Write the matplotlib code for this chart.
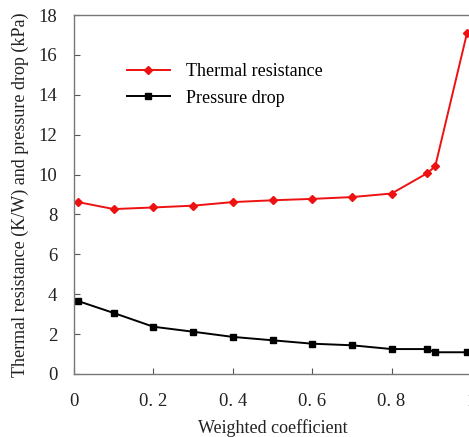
import matplotlib
matplotlib.use("Agg")
import matplotlib.pyplot as plt

# weighted coefficient values
weight = [0.01, 0.1, 0.2, 0.3, 0.4, 0.5, 0.6, 0.7, 0.8, 0.89, 0.91, 0.99]
thermal_resistance = [8.62, 8.27, 8.35, 8.44, 8.62, 8.71, 8.78, 8.87, 9.05, 10.07, 10.42, 17.1]
pressure_drop = [3.66, 3.06, 2.37, 2.12, 1.86, 1.69, 1.52, 1.44, 1.25, 1.25, 1.09, 1.09]

xticks = [0, 0.2, 0.4, 0.6, 0.8, 1.0]
xtick_labels = ["0", "0. 2", "0. 4", "0. 6", "0. 8", "1"]
yticks = list(range(0, 19, 2))

plt.rcParams['font.family'] = ['Liberation Serif', 'DejaVu Serif']

fig = plt.figure(figsize=(4.69, 4.37), dpi=100)
ax = fig.add_axes([74/469, 1-374/437, (471-74)/469, (374-15)/437])

ax.plot(weight, thermal_resistance, color="#ee1111", marker="D", markersize=4.5,
        linewidth=1.4, label="Thermal resistance")
ax.plot(weight, pressure_drop, color="black", marker="s", markersize=5,
        linewidth=1.4, label="Pressure drop")

ax.set_xlim(0, 1)
ax.set_ylim(0, 18)
ax.set_xticks(xticks)
ax.set_xticklabels(xtick_labels)
ax.set_yticks(yticks)
ax.tick_params(direction="in", length=4, width=0.8, color="#555555",
               labelsize=13.5, labelcolor="#222222")
ax.tick_params(axis="x", pad=14)
ax.tick_params(axis="y", pad=12)
for s in ["left", "bottom", "top", "right"]:
    ax.spines[s].set_color("#777777")
    ax.spines[s].set_linewidth(1.0)

ax.set_xlabel("Weighted coefficient", fontsize=13, color="#222222", labelpad=6)
ax.set_ylabel("Thermal resistance (K/W) and pressure drop (kPa)", fontsize=13,
              color="#222222", labelpad=7)

ax.legend(loc="upper left", bbox_to_anchor=(0.092, 0.912), frameon=False,
          fontsize=13, handlelength=2.4, handletextpad=0.9, labelspacing=0.55)

fig.savefig("out.png", dpi=100)
